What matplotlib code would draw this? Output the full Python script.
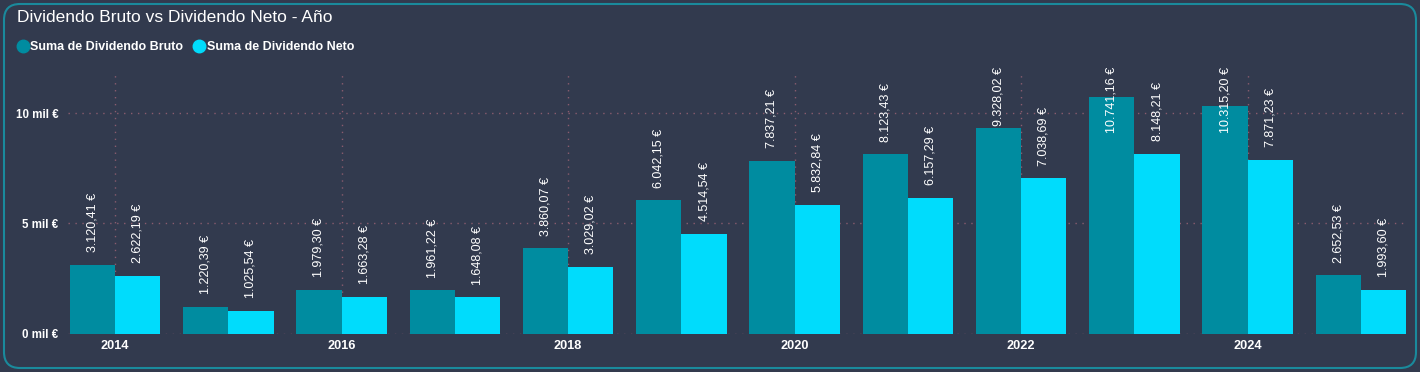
import matplotlib
matplotlib.use('Agg')
import matplotlib.pyplot as plt
import matplotlib.transforms as mtransforms
from matplotlib.patches import FancyBboxPatch
from matplotlib.lines import Line2D
import numpy as np

years = [2014, 2015, 2016, 2017, 2018, 2019, 2020, 2021, 2022, 2023, 2024, 2025]
bruto = [3120.41, 1220.39, 1979.30, 1961.22, 3860.07, 6042.15, 7837.21,
         8123.43, 9328.02, 10741.16, 10315.20, 2652.53]
neto = [2622.19, 1025.54, 1663.28, 1648.08, 3029.02, 4514.54, 5832.84,
        6157.29, 7038.69, 8148.21, 7871.23, 1993.60]
y_ticks = [0, 5000, 10000]
y_tick_labels = ['0 mil €', '5 mil €', '10 mil €']
x_ticks = [2014, 2016, 2018, 2020, 2022, 2024]

BG = '#323a4e'
C_BRUTO = '#008ca0'
C_NETO = '#00dcfc'
GRID = '#8a5c6e'
BORDER = '#1a8a9c'

plt.rcParams['font.family'] = ['Liberation Sans', 'DejaVu Sans']

W, H = 1420, 372
fig = plt.figure(figsize=(W / 100, H / 100), dpi=100)
fig.patch.set_facecolor(BG)

# rounded frame round the visual
frame = FancyBboxPatch((4, 4), 1412, 364, boxstyle='round,pad=0,rounding_size=16',
                       transform=mtransforms.IdentityTransform(),
                       facecolor=BG, edgecolor=BORDER, linewidth=1.5, zorder=-5)
fig.patches.append(frame)

ax = fig.add_axes([68 / W, (H - 333.5) / H, (1408 - 68) / W, (333.5 - 72) / H])
ax.set_facecolor('none')

x = np.array(years, dtype=float)
w = 0.4
ax.bar(x - w / 2, bruto, width=w, color=C_BRUTO, zorder=2)
ax.bar(x + w / 2, neto, width=w, color=C_NETO, zorder=2)

ax.set_xlim(2013.585, 2025.415)
ax.set_ylim(0, 11860)

ax.set_yticks(y_ticks)
ax.set_yticklabels(y_tick_labels)
ax.set_xticks(x_ticks)
ax.set_xticklabels([str(t) for t in x_ticks])
ax.tick_params(axis='both', length=0, colors='white')
ax.tick_params(axis='y', pad=7, labelsize=8.3)
ax.tick_params(axis='x', pad=5, labelsize=9.2)
for lab in ax.get_xticklabels() + ax.get_yticklabels():
    lab.set_fontweight('bold')

ax.grid(True, color=GRID, linestyle=(0, (1, 4)), linewidth=1)
ax.set_axisbelow(True)
for s in ax.spines.values():
    s.set_visible(False)


def eur(v):
    s = f'{v:,.2f}'.replace(',', 'X').replace('.', ',').replace('X', '.')
    return s + ' €'


# data labels, pushed down when they would run past the top
offset = mtransforms.offset_copy(ax.transData, fig=fig, y=9, units='points')
labels = []
for xi, b, n in zip(x, bruto, neto):
    for xp, v in ((xi - w / 2, b), (xi + w / 2, n)):
        t = ax.text(xp, v, eur(v), rotation=90, ha='center', va='bottom',
                    color='white', fontsize=9, transform=offset, zorder=3)
        labels.append(t)

fig.canvas.draw()
renderer = fig.canvas.get_renderer()
px_per_unit = ax.transData.transform((0, 1000))[1] - ax.transData.transform((0, 0))[1]
px_per_unit /= 1000
limit = H - 67
for t in labels:
    bb = t.get_window_extent(renderer)
    if bb.y1 > limit:
        t.set_y(t.get_position()[1] - (bb.y1 - limit) / px_per_unit)

fig.text(17 / W, 1 - 17 / H, 'Dividendo Bruto vs Dividendo Neto - Año', color='white',
         fontsize=12.5, ha='left', va='center')

handles = [Line2D([], [], marker='o', linestyle='none', markersize=9, color=C_BRUTO),
           Line2D([], [], marker='o', linestyle='none', markersize=9, color=C_NETO)]
fig.legend(handles, ['Suma de Dividendo Bruto', 'Suma de Dividendo Neto'],
           loc='center left', bbox_to_anchor=(15 / W, 1 - 47 / H), ncol=2,
           frameon=False, handletextpad=0.0, columnspacing=0.7, handlelength=1.2,
           borderaxespad=0, borderpad=0,
           prop={'size': 9, 'weight': 'bold'}, labelcolor='white')

fig.savefig('out.png', dpi=100, facecolor=BG)
